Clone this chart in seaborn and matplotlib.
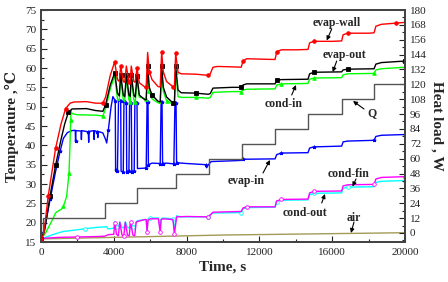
import numpy as np
import pandas as pd
import matplotlib
matplotlib.use('Agg')
import matplotlib.pyplot as plt
import seaborn as sns
from matplotlib.ticker import MultipleLocator

# ---- data (time in s, temperature in C, heat load in W) ----
wall_t = [0, 150, 400, 800, 1100, 1350, 1600, 1800, 2500, 3000, 3400, 3550, 3800, 4050,
          4200, 4300, 4380, 4520, 4600, 4690, 4830, 4900, 4960, 5100, 5180, 5275, 5400,
          5700, 5780, 5860, 5950, 6100, 6430, 6550, 6630, 6720, 6900, 7240, 7330, 7400,
          7530, 7700, 8500, 9200, 9300, 9450, 9700, 10500, 11000, 11100, 11300, 12000,
          12860, 12950, 13200, 14000, 14670, 14760, 15000, 16000, 16520, 16600, 16850,
          18000, 18300, 18400, 18700, 19500, 20000]
wall_T = [15.8, 17, 27, 39.2, 45.5, 49.5, 50.9, 51.2, 51.3, 50.9, 50.9, 52.5, 58, 61.6,
          57, 56.5, 60.5, 56.5, 56.3, 60.5, 56.5, 56.3, 60.5, 56.5, 56.3, 60, 56.2,
          55.1, 55.2, 64, 59, 57, 55.2, 55.1, 64.1, 59, 56.5, 55.2, 55.1, 63.8,
          58.9, 58.5, 58.4, 58.1, 58.5, 60.2, 60.4, 60.3, 60.2, 61.8, 62.4, 62.3,
          62.2, 64.2, 64.7, 64.7, 64.8, 66.5, 66.9, 66.9, 67.0, 68.6, 69.0,
          69.0, 69.1, 70.8, 71.3, 71.6, 71.8]

out_t = [0, 200, 500, 800, 1100, 1300, 1500, 1700, 2500, 3000, 3400, 3550, 3800, 4050,
         4200, 4300, 4380, 4520, 4600, 4690, 4830, 4900, 4960, 5100, 5180, 5275, 5400,
         5700, 5780, 5860, 5950, 6100, 6430, 6550, 6630, 6720, 6900, 7240, 7330, 7400,
         7530, 7700, 8500, 9200, 9300, 9450, 10500, 11000, 11100, 11300, 12000, 12860,
         12950, 13200, 14670, 14760, 15000, 16520, 16600, 16850, 18300, 18400, 18700, 20000]
out_T = [15.8, 18, 27, 34.8, 41.5, 45.5, 48.5, 49.4, 49.5, 49.0, 48.8, 50.5, 55.5, 58.8,
         53.5, 52.8, 58.3, 53, 52.6, 58.3, 53, 52.6, 58.3, 53, 52.5, 58, 53,
         51.8, 51.8, 60.4, 55, 53, 51.4, 51.2, 60.5, 55, 52.5, 51.0, 51.0, 60.4,
         54.3, 53.6, 53.5, 53.2, 53.4, 54.8, 55, 55, 55.6, 55.9, 55.9, 55.9,
         56.8, 57.0, 57.1, 58.5, 58.9, 59.0, 59.5, 59.7, 59.8, 61.0, 61.4, 61.8]

cin_t = [0, 260, 600, 800, 900, 1100, 1230, 1410, 1540, 1590, 1630, 1650, 1700, 2000,
         3000, 3400, 3550, 3800, 4050, 4200, 4300, 4380, 4520, 4600, 4690, 4830, 4900,
         4960, 5100, 5180, 5275, 5400, 5700, 5780, 5860, 5950, 6100, 6430, 6550, 6630,
         6720, 6900, 7240, 7330, 7400, 7530, 7700, 8500, 9200, 9300, 9450, 10500, 11000,
         11100, 11300, 12860, 12950, 13200, 14670, 14760, 15000, 16520, 16600, 16850,
         18300, 18400, 18700, 20000]
cin_T = [15.8, 17.4, 20.5, 22.5, 22.9, 23.4, 24.2, 26.8, 32.9, 39.7, 46.6, 49.0, 48.2, 47.9,
         47.8, 47.6, 49.5, 54.5, 58.0, 52.0, 51.5, 57.5, 51.8, 51.3, 57.5, 51.8, 51.3,
         57.5, 51.8, 51.2, 57, 52.5, 52.1, 52, 59.1, 54, 52, 51, 50.8, 59.0,
         54, 51.5, 50.7, 50.7, 59.0, 52.6, 52.4, 52.4, 52.2, 52.4, 53.7, 53.9, 53.9,
         54.3, 54.5, 54.6, 55.6, 55.9, 56.0, 57.1, 57.4, 57.5, 58.2, 58.5,
         58.6, 59.5, 59.8, 60.2]

ein_t = [0, 200, 500, 800, 1050, 1230, 1450, 1700, 1880, 1900, 1920, 2200, 2220, 2240,
         2600, 2620, 2640, 2900, 2920, 2940, 3100, 3120, 3140, 3400, 3550, 3610, 3700,
         3850, 3950, 4080, 4100, 4200, 4260, 4380, 4400, 4520, 4560, 4690, 4710, 4830,
         4870, 4960, 4990, 5120, 5160, 5275, 5300, 5700, 5780, 5830, 5880, 5900, 6100,
         6550, 6600, 6650, 6680, 6900, 7300, 7360, 7420, 7450, 8000, 9050, 9100, 9200,
         9350, 10500, 11000, 11100, 12860, 12950, 13200, 14670, 14760, 15000, 16520,
         16600, 16850, 18300, 18400, 18700, 20000]
ein_T = [15.8, 18.5, 26, 33.2, 38.5, 41.8, 43.3, 43.8, 43.9, 41.0, 43.8, 43.7, 41.5, 43.8,
         43.5, 40.8, 43.6, 43.8, 41.5, 43.8, 43.5, 42.0, 43.6, 43.2, 41.5, 40.6, 44,
         50, 52.6, 51.5, 33.5, 33.3, 51.8, 51.5, 33.3, 33.2, 51.5, 51, 33.2, 33.3,
         51.5, 51, 33.2, 33.3, 51.3, 51, 34.0, 34.1, 34.2, 51.3, 51.3, 35, 35.4,
         35.3, 51.5, 51.2, 35.3, 35.4, 35.2, 51, 51, 35.5, 35.3, 35.0, 34.2, 35,
         35.8, 36, 36.1, 36.4, 36.5, 37.6, 38, 38.1, 39.3, 39.6, 39.8,
         40.9, 41.1, 41.3, 42.3, 42.6, 42.8]

fin_t = [0, 300, 1000, 2000, 3000, 3500, 3700, 4000, 4050, 4150, 4250, 4330, 4450, 4550,
         4630, 4750, 4850, 4920, 5050, 5150, 5230, 5300, 5700, 5780, 5830, 5880, 6000,
         6450, 6550, 6600, 6700, 7250, 7330, 7450, 8000, 9200, 9300, 9450, 11000, 11100,
         11300, 12860, 12950, 13200, 14670, 14760, 15000, 16520, 16600, 16850, 18300,
         18400, 18700, 20000]
fin_T = [15.8, 16.0, 16.2, 16.3, 16.4, 16.5, 16.9, 17.0, 20, 17, 16.6, 20.1, 16.8, 16.6,
         20.1, 16.8, 16.6, 20.1, 16.8, 16.6, 20.1, 20.3, 20.8, 20.8, 17.7, 20.6, 21.0,
         21.0, 17.5, 20.8, 21.0, 20.8, 17.0, 21.5, 21.6, 21.5, 22.0, 22.7, 22.9, 23.8,
         24.1, 24.1, 25.6, 26.0, 26.1, 27.7, 28.1, 28.2, 29.5, 29.8, 29.9,
         31.3, 31.7, 31.9]

cout_t = [0, 300, 700, 1200, 2400, 3060, 3500, 3600, 3680, 3900, 4000, 4050, 4150, 4250,
          4330, 4450, 4550, 4630, 4750, 4850, 4920, 5050, 5150, 5230, 5300, 5700, 5780,
          5830, 5880, 6000, 6450, 6550, 6600, 6700, 7250, 7330, 7450, 7600, 9200, 9300,
          9450, 11000, 11100, 11300, 12860, 12950, 13200, 14670, 14760, 15000, 16520,
          16600, 16850, 18300, 18400, 18700, 20000]
cout_T = [15.8, 16.3, 17.0, 17.7, 18.4, 18.8, 18.9, 19.0, 18.4, 18.5, 18.6, 20.2, 18.8, 18.6,
          20.2, 18.8, 18.6, 20.2, 18.8, 18.6, 20.2, 18.8, 18.6, 20.2, 20.5, 20.8, 20.8,
          18.2, 21.0, 21.2, 21.2, 18.5, 21.0, 21.2, 21.0, 18.2, 21.8, 21.5, 21.5, 22.0,
          22.5, 22.6, 23.6, 23.9, 24.0, 25.4, 25.8, 25.9, 27.2, 27.6, 27.7,
          28.9, 29.2, 29.3, 30.4, 30.7, 30.9]

air_t = [0, 5000, 10000, 15000, 20000]
air_T = [15.8, 16.3, 16.8, 17.1, 17.4]

q_t = [0, 120, 3490, 5275, 7418, 9232, 11045, 12858, 14672, 16513, 18298, 20000]
q_w = [0, 12, 24, 36, 48, 60, 72, 84, 96, 108, 120, 120]

sns.set_theme(style='ticks')
plt.rcParams['font.family'] = ['Liberation Serif', 'DejaVu Serif', 'DejaVu Sans']

fig = plt.figure(figsize=(4.48, 2.82), dpi=100)
ax = fig.add_axes([41 / 448, 40 / 282, 364 / 448, 232 / 282])
ax2 = ax.twinx()

series = [
    (air_t, air_T, '#a39a55', None),
    (cout_t, cout_T, '#00ffff', 'o'),
    (fin_t, fin_T, '#ff00ff', 'o'),
    (ein_t, ein_T, '#0000ff', '*'),
    (cin_t, cin_T, '#00ff00', '^'),
    (out_t, out_T, '#000000', 's'),
    (wall_t, wall_T, '#ff0000', 'o'),
]
for t, T, c, m in series:
    df = pd.DataFrame({'t': t, 'T': T})
    kw = {}
    if m is not None:
        kw = dict(marker=m, markersize=2.6, markevery=0.1, markeredgewidth=0.6,
                  markeredgecolor=c)
        if m == 'o' and c in ('#00ffff', '#ff00ff'):
            kw['markerfacecolor'] = 'white'
    sns.lineplot(data=df, x='t', y='T', ax=ax, color=c, lw=1.0, sort=False,
                 estimator=None, **kw)

qdf = pd.DataFrame({'t': q_t, 'Q': q_w})
sns.lineplot(data=qdf, x='t', y='Q', ax=ax2, color='#555555', lw=1.0, sort=False,
             estimator=None, drawstyle='steps-post')

ax.set_xlim(0, 20000)
ax.set_ylim(15, 75)
ax2.set_ylim(-7.3, 180)
ax.xaxis.set_major_locator(MultipleLocator(4000))
ax.xaxis.set_minor_locator(MultipleLocator(2000))
ax.yaxis.set_major_locator(MultipleLocator(5))
ax.yaxis.set_minor_locator(MultipleLocator(2.5))
ax2.set_yticks(np.arange(0, 181, 12))
ax2.yaxis.set_minor_locator(MultipleLocator(6))

for a in (ax, ax2):
    a.tick_params(which='both', direction='in', labelsize=8, width=0.8, colors='#222222')
    a.tick_params(which='major', length=4)
    a.tick_params(which='minor', length=2)
    for s in a.spines.values():
        s.set_color('#444444')
        s.set_linewidth(1.4)
ax.tick_params(axis='x', pad=4)

ax.set_xlabel('Time, s', fontsize=11, fontweight='bold', labelpad=3)
ax.set_ylabel('Temperature ,℃', fontsize=11, fontweight='bold', labelpad=4)
ax2.set_ylabel('Heat load , W', fontsize=11, fontweight='bold', rotation=270, labelpad=12)

# annotations with arrows
notes = [
    ('evap-wall', (313, 23), (331.7, 29), (326.7, 40.5)),
    ('evap-out', (323, 55), (336.7, 61), (332.7, 72)),
    ('cond-in', (265, 104), (291.7, 95), (296, 85)),
    ('Q', (367, 113), (364, 109), (353, 101)),
    ('evap-in', (228, 181), (263, 173), (270, 160)),
    ('cond-fin', (328, 174), (356, 179), (352.5, 186.5)),
    ('cond-out', (283, 213), (321.7, 203), (325, 194)),
    ('air', (347, 218), (354, 222), (351, 233)),
]
for txt, (tx, ty), (ax0, ay0), (ax1, ay1) in notes:
    fig.text(tx / 448, 1 - ty / 282, txt, fontsize=8.5, fontweight='bold',
             ha='left', va='center')
    ax.annotate('', xy=(ax1 / 448, 1 - ay1 / 282), xycoords='figure fraction',
                xytext=(ax0 / 448, 1 - ay0 / 282), textcoords='figure fraction',
                arrowprops=dict(arrowstyle='-|>', color='black', lw=0.8,
                                mutation_scale=6, shrinkA=0, shrinkB=0))

fig.savefig('out.png', dpi=100)
